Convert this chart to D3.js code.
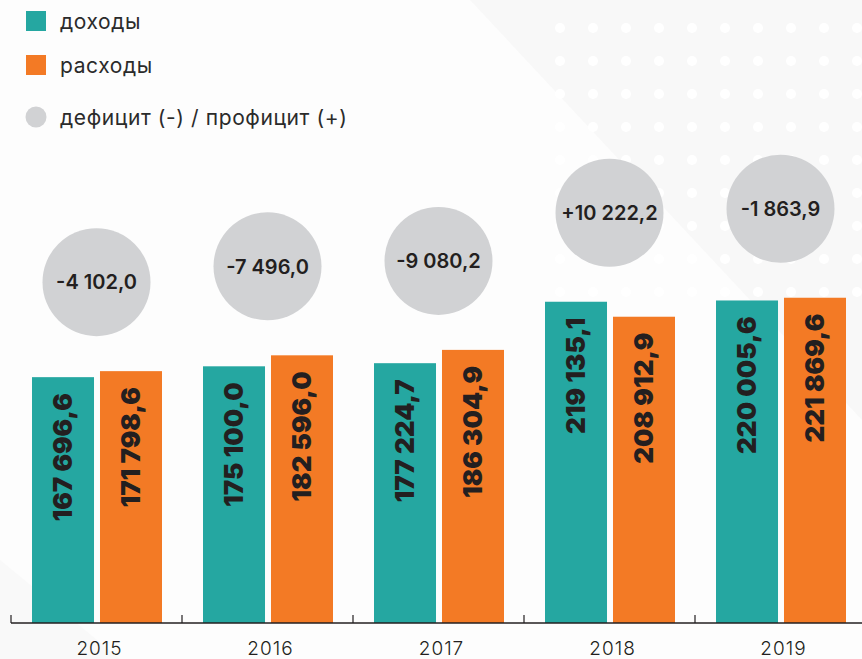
<!DOCTYPE html>
<html>
<head>
<meta charset="utf-8">
<script src="https://cdn.jsdelivr.net/npm/d3@7"></script>
<style>
  html, body { margin: 0; padding: 0; background: #fdfdfd; }
  svg { display: block; }
</style>
</head>
<body>
<svg id="chart" width="862" height="659"></svg>
<script>
// data
const years = ["2015", "2016", "2017", "2018", "2019"];
const income = [167696.6, 175100.0, 177224.7, 219135.1, 220005.6];
const expense = [171798.6, 182596.0, 186304.9, 208912.9, 221869.6];
const balance = ["-4 102,0", "-7 496,0", "-9 080,2", "+10 222,2", "-1 863,9"];
const incomeLabels = ["167 696,6", "175 100,0", "177 224,7", "219 135,1", "220 005,6"];
const expenseLabels = ["171 798,6", "182 596,0", "186 304,9", "208 912,9", "221 869,6"];
const seriesNames = ["доходы", "расходы"];
const balanceName = "дефицит (-) / профицит (+)";

const TEAL = "#25a7a1";
const ORANGE = "#f37a25";
const GREY = "#d1d2d4";
const INK = "#231f20";

const width = 862, height = 659;
const baseY = 623;

const svg = d3.select("#chart");

// faint background decoration
const bg = svg.append("g");
bg.append("rect").attr("width", width).attr("height", height).attr("fill", "#fdfdfd");
bg.append("path")
    .attr("d", "M470,0 L862,0 L862,420 Z")
    .attr("fill", "#f8f8f8");
bg.append("path")
    .attr("d", "M0,560 L120,659 L0,659 Z")
    .attr("fill", "#f9f9f9");
const dotG = bg.append("g").attr("fill", "#ffffff");
d3.range(0, 9).forEach(function (r) {
    d3.range(0, 12).forEach(function (c) {
        dotG.append("circle")
            .attr("cx", 560 + c * 33)
            .attr("cy", 28 + r * 33)
            .attr("r", 5);
    });
});

// scales
const x0 = d3.scaleBand().domain(years).range([11, 866]).padding(0);
const x1 = d3.scaleBand().domain(["inc", "exp"]).range([21, 151]).paddingInner(0.088);
const y = d3.scaleLinear().domain([0, 230000]).range([baseY, baseY - 230000 * 0.001466]);

const rows = years.map(function (yr, i) {
    return {year: yr, inc: income[i], exp: expense[i], bal: balance[i],
        incLabel: incomeLabels[i], expLabel: expenseLabels[i]};
});

// bars
const groups = svg.selectAll("g.year")
    .data(rows)
    .enter()
    .append("g")
    .attr("class", "year")
    .attr("transform", function (d) { return "translate(" + x0(d.year) + ",0)"; });

const bars = groups.selectAll("g.bar")
    .data(function (d) {
        return [
            {key: "inc", value: d.inc, label: d.incLabel, color: TEAL},
            {key: "exp", value: d.exp, label: d.expLabel, color: ORANGE}
        ];
    })
    .enter()
    .append("g")
    .attr("class", "bar");

bars.append("rect")
    .attr("x", function (d) { return x1(d.key); })
    .attr("y", function (d) { return y(d.value); })
    .attr("width", x1.bandwidth())
    .attr("height", function (d) { return baseY - y(d.value); })
    .attr("fill", function (d) { return d.color; });

bars.append("text")
    .attr("transform", function (d) {
        const cx = x1(d.key) + x1.bandwidth() / 2;
        return "translate(" + cx + "," + (y(d.value) + 16) + ") rotate(-90)";
    })
    .attr("text-anchor", "end")
    .attr("dy", "0.36em")
    .attr("font-family", "Inter, 'DejaVu Sans', sans-serif")
    .attr("font-weight", 900)
    .attr("font-size", "26px")
    .attr("fill", INK)
    .text(function (d) { return d.label; });

// balance bubbles
const R = 54;
const bubbles = svg.selectAll("g.bubble")
    .data(rows)
    .enter()
    .append("g")
    .attr("class", "bubble")
    .attr("transform", function (d) {
        const cx = x0(d.year) + x0.bandwidth() / 2;
        const cy = y(Math.max(d.inc, d.exp)) - 35 - R;
        return "translate(" + cx + "," + cy + ")";
    });

bubbles.append("circle")
    .attr("r", R)
    .attr("fill", GREY);

bubbles.append("text")
    .attr("text-anchor", "middle")
    .attr("dy", "0.36em")
    .attr("font-family", "Inter, 'DejaVu Sans', sans-serif")
    .attr("font-weight", 600)
    .attr("font-size", "20px")
    .attr("fill", INK)
    .text(function (d) { return d.bal; });

// axis
const axis = svg.append("g");
axis.append("line")
    .attr("x1", x0.range()[0]).attr("x2", width)
    .attr("y1", baseY).attr("y2", baseY)
    .attr("stroke", INK)
    .attr("stroke-width", 1.5);
axis.selectAll("line.tick")
    .data(years)
    .enter()
    .append("line")
    .attr("class", "tick")
    .attr("x1", function (d) { return x0(d); })
    .attr("x2", function (d) { return x0(d); })
    .attr("y1", baseY)
    .attr("y2", baseY - 8)
    .attr("stroke", INK)
    .attr("stroke-width", 1.2);
axis.selectAll("text")
    .data(years)
    .enter()
    .append("text")
    .attr("x", function (d) { return x0(d) + x0.bandwidth() / 2 + 3; })
    .attr("y", 655)
    .attr("text-anchor", "middle")
    .attr("font-family", "Inter, 'DejaVu Sans', sans-serif")
    .attr("font-weight", 300)
    .attr("font-size", "19px")
    .attr("letter-spacing", "1px")
    .attr("fill", INK)
    .text(function (d) { return d; });

// legend
const legend = svg.append("g").attr("transform", "translate(26,0)");
const legendItems = [
    {name: seriesNames[0], color: TEAL, shape: "rect", cy: 21},
    {name: seriesNames[1], color: ORANGE, shape: "rect", cy: 65},
    {name: balanceName, color: GREY, shape: "circle", cy: 117}
];
legendItems.forEach(function (it) {
    if (it.shape === "rect") {
        legend.append("rect")
            .attr("x", 0).attr("y", it.cy - 10)
            .attr("width", 20).attr("height", 20)
            .attr("fill", it.color);
    } else {
        legend.append("circle")
            .attr("cx", 10).attr("cy", it.cy)
            .attr("r", 10.5)
            .attr("fill", it.color);
    }
    legend.append("text")
        .attr("x", 34)
        .attr("y", it.cy + 1)
        .attr("dy", "0.32em")
        .attr("font-family", "Inter, 'DejaVu Sans', sans-serif")
        .attr("font-weight", 400)
        .attr("font-size", "21px")
        .attr("letter-spacing", "0.6px")
        .attr("fill", "#2b2b2b")
        .text(it.name);
});
</script>
</body>
</html>
